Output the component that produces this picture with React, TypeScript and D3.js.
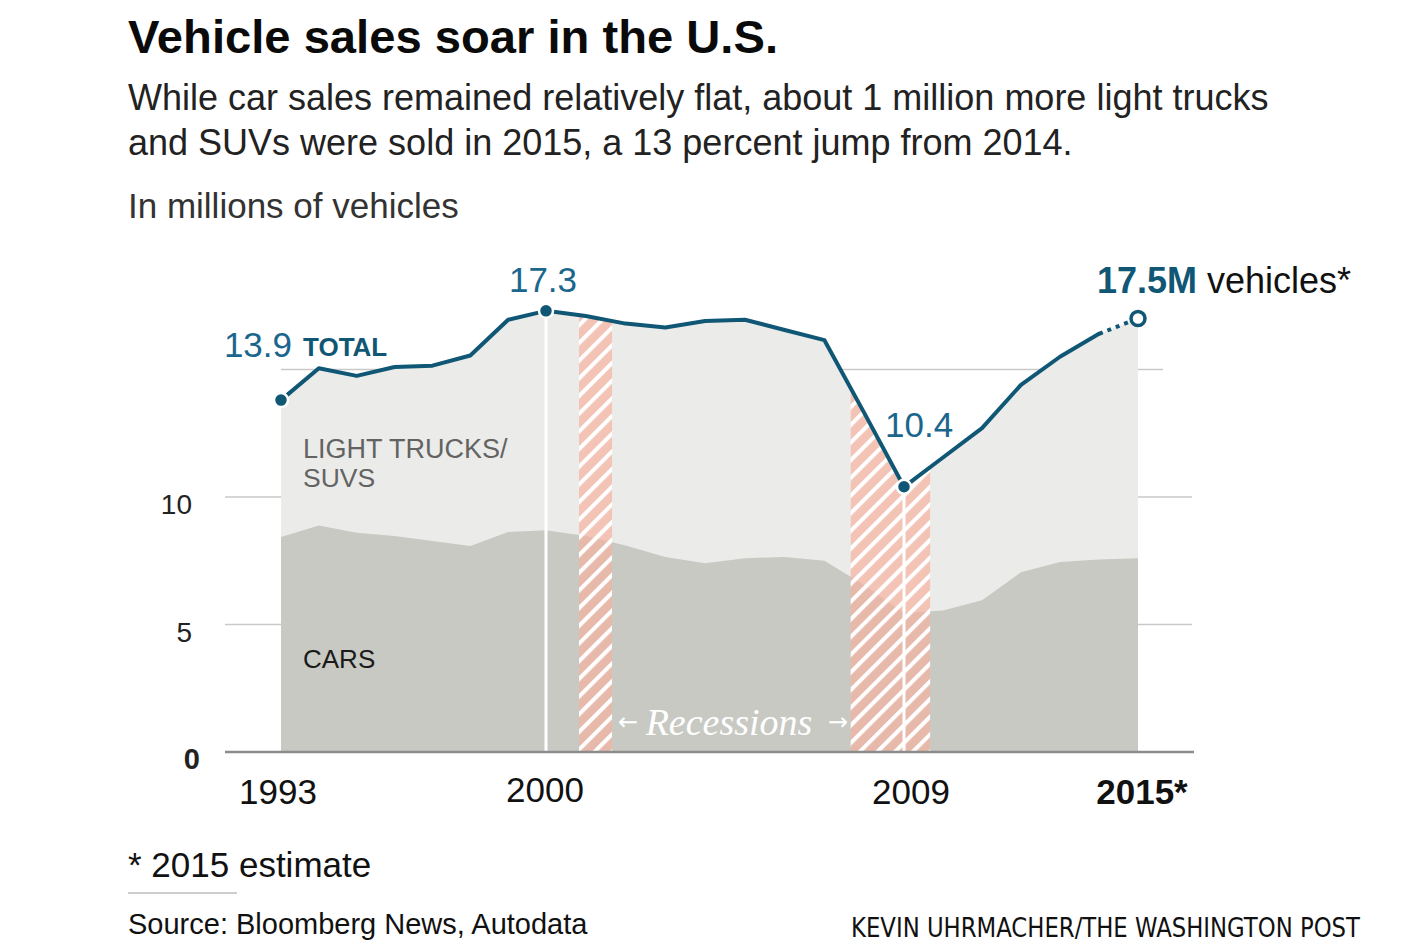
import React from 'react';
import * as d3 from 'd3';

const years = [1993, 1994, 1995, 1996, 1997, 1998, 1999, 2000, 2001, 2002, 2003, 2004, 2005, 2006, 2007, 2008, 2009, 2010, 2011, 2012, 2013, 2014, 2015];
const totalSales = [13.8, 15.05, 14.75, 15.1, 15.15, 15.55, 16.95, 17.3, 17.1, 16.8, 16.65, 16.9, 16.95, 16.55, 16.15, 13.3, 10.4, 11.55, 12.7, 14.4, 15.5, 16.4, 17.0];
const carSales = [8.43, 8.88, 8.6, 8.47, 8.27, 8.08, 8.63, 8.7, 8.47, 8.1, 7.65, 7.4, 7.6, 7.65, 7.5, 6.55, 5.45, 5.55, 5.95, 7.05, 7.45, 7.55, 7.6];
const recessions: [number, number][] = [[2000.83, 2001.66], [2007.66, 2009.67]];
const yTickValues = [0, 5, 10];
const yTickLabels = ['0', '5', '10'];
const gridValues = [5, 10, 15];
const yearTicks = [1993, 2000, 2009, 2015];
const yearTickLabels = ['1993', '2000', '2009', '2015*'];
const markedYears = [1993, 2000, 2009];
const markedLabels = ['13.9', '17.3', '10.4'];
const lastLabelValue = '17.5M';

const LINE = '#0f5774';
const LABEL = '#1b668c';
const LIGHT = '#ebebe9';
const DARK = '#c8c9c3';
const SANS = 'Liberation Sans, Arial, sans-serif';
const NARROW = 'Liberation Sans Narrow, Arial Narrow, DejaVu Sans Condensed, sans-serif';

export default function App() {
  const x = d3.scaleLinear().domain([1993, 2000, 2009, 2015]).range([281, 546, 904, 1138]);
  const y = d3.scaleLinear().domain([0, 10]).range([752, 497]);

  const rows = years.map((yr, i) => ({ yr, total: totalSales[i], cars: carSales[i] }));
  type Row = typeof rows[number];

  const totalArea = d3.area<Row>().x(d => x(d.yr)).y0(y(0)).y1(d => y(d.total))(rows) || '';
  const carArea = d3.area<Row>().x(d => x(d.yr)).y0(y(0)).y1(d => y(d.cars))(rows) || '';
  const lineGen = d3.line<Row>().x(d => x(d.yr)).y(d => y(d.total));
  const solidLine = lineGen(rows.slice(0, rows.length - 1)) || '';
  const dottedLine = lineGen(rows.slice(rows.length - 2)) || '';

  const valueOf = (yr: number) => totalSales[years.indexOf(yr)];
  const last = rows[rows.length - 1];

  const labelPos: Record<number, { dx: number; dy: number; anchor: string }> = {
    1993: { dx: 11, dy: -43, anchor: 'end' },
    2000: { dx: -3, dy: -19, anchor: 'middle' },
    2009: { dx: -19, dy: -50, anchor: 'start' },
  };
  const yearDx = [-3, -1, 7, 4];

  return (
    <svg width={1418} height={948} style={{ position: 'absolute', left: 0, top: 0, background: '#fff' }}>
      <defs>
        <clipPath id="totalClip">
          <path d={totalArea} />
        </clipPath>
        <pattern id="hatch" patternUnits="userSpaceOnUse" width={12.5} height={12.5} patternTransform="rotate(45)">
          <rect x={0} y={0} width={12.5} height={12.5} fill="rgb(246,176,158)" fillOpacity={0.68} />
          <rect x={0} y={0} width={4} height={12.5} fill="#fff" />
        </pattern>
      </defs>

      {/* Title and text */}
      <text x={128} y={53} fontFamily={SANS} fontWeight={700} fontSize={47} fill="#0a0a0a" textLength={650} lengthAdjust="spacingAndGlyphs">Vehicle sales soar in the U.S.</text>
      <text x={128} y={110} fontFamily={SANS} fontSize={36} fill="#222">While car sales remained relatively flat, about 1 million more light trucks</text>
      <text x={128} y={155} fontFamily={SANS} fontSize={36} fill="#222">and SUVs were sold in 2015, a 13 percent jump from 2014.</text>
      <text x={128} y={218} fontFamily={SANS} fontSize={35} fill="#333">In millions of vehicles</text>

      {/* gridlines */}
      {gridValues.map(v => (
        <line key={v} x1={v === 15 ? x(1993) : 225} x2={v === 15 ? 1163 : 1192} y1={y(v)} y2={y(v)} stroke="#c9c9c9" strokeWidth={1.5} />
      ))}

      {/* areas */}
      <path d={totalArea} fill={LIGHT} />
      <path d={carArea} fill={DARK} />

      {/* recession hatches */}
      <g clipPath="url(#totalClip)">
        {recessions.map(([a, b], i) => (
          <rect key={i} x={x(a)} y={0} width={x(b) - x(a)} height={y(0)} fill="url(#hatch)" />
        ))}
      </g>

      {/* white vertical lines */}
      {[2000, 2009].map(yr => (
        <line key={yr} x1={x(yr)} x2={x(yr)} y1={y(valueOf(yr))} y2={y(0)} stroke="#fff" strokeWidth={3} />
      ))}

      {/* baseline */}
      <line x1={225} x2={1194} y1={y(0)} y2={y(0)} stroke="#8c8c8c" strokeWidth={2.5} />

      {/* y tick labels */}
      {yTickValues.map((v, i) => (
        <text key={v} x={v === 0 ? 200 : 192} y={y(v) + 17} textAnchor="end" fontFamily={SANS}
          fontSize={v === 0 ? 29 : 28} fontWeight={v === 0 ? 700 : 400} fill="#222">{yTickLabels[i]}</text>
      ))}

      {/* x tick labels */}
      {yearTicks.map((yr, i) => (
        <text key={yr} x={x(yr) + yearDx[i]} y={yr === 2000 ? 802 : 804} textAnchor="middle" fontFamily={SANS}
          fontSize={35} fontWeight={yr === 2015 ? 700 : 400} fill="#111">{yearTickLabels[i]}</text>
      ))}

      {/* area labels */}
      <text x={303} y={458} fontFamily={SANS} fontSize={27} fill="#636363">LIGHT TRUCKS/</text>
      <text x={303} y={487} fontFamily={SANS} fontSize={26.5} fill="#636363">SUVS</text>
      <text x={303} y={668} fontFamily={SANS} fontSize={26} fill="#1a1a1a">CARS</text>

      {/* recessions label */}
      <text x={618} y={730} fontFamily="DejaVu Sans, sans-serif" fontSize={24} fill="#fff">←</text>
      <text x={729} y={735} textAnchor="middle" fontFamily="Liberation Serif, Times New Roman, serif" fontStyle="italic" fontSize={38} fill="#fff">Recessions</text>
      <text x={848} y={730} textAnchor="end" fontFamily="DejaVu Sans, sans-serif" fontSize={24} fill="#fff">→</text>

      {/* total line */}
      <path d={solidLine} fill="none" stroke={LINE} strokeWidth={4} strokeLinejoin="round" strokeLinecap="round" />
      <path d={dottedLine} fill="none" stroke={LINE} strokeWidth={4} strokeDasharray="4 5" />

      {/* marked points */}
      {markedYears.map(yr => (
        <circle key={yr} cx={x(yr)} cy={y(valueOf(yr))} r={7} fill={LINE} stroke="#fff" strokeWidth={2.5} />
      ))}
      <circle cx={x(last.yr)} cy={y(last.total)} r={7} fill="#fff" stroke={LINE} strokeWidth={3.5} />

      {/* value labels */}
      {markedYears.map((yr, i) => {
        const p = labelPos[yr];
        return (
          <text key={yr} x={x(yr) + p.dx} y={y(valueOf(yr)) + p.dy} textAnchor={p.anchor} fontFamily={SANS}
            fontSize={35} fill={LABEL}>{markedLabels[i]}</text>
        );
      })}
      <text x={303} y={356} fontFamily={SANS} fontWeight={700} fontSize={26} fill={LINE}>TOTAL</text>
      <text x={1097} y={293} fontFamily={SANS} fontSize={36}>
        <tspan fontWeight={700} fill={LINE}>{lastLabelValue}</tspan>
        <tspan fill="#111" dx={10}>vehicles*</tspan>
      </text>

      {/* footer */}
      <text x={128} y={877} fontFamily={SANS} fontSize={35} fill="#111">* 2015 estimate</text>
      <line x1={128} x2={237} y1={893} y2={893} stroke="#bdbdbd" strokeWidth={1.5} />
      <text x={128} y={934} fontFamily={SANS} fontSize={29} fill="#111">Source: Bloomberg News, Autodata</text>
      <text x={851} y={937} fontFamily={NARROW} fontSize={27} fill="#111" textLength={509} lengthAdjust="spacingAndGlyphs">KEVIN UHRMACHER/THE WASHINGTON POST</text>
    </svg>
  );
}
